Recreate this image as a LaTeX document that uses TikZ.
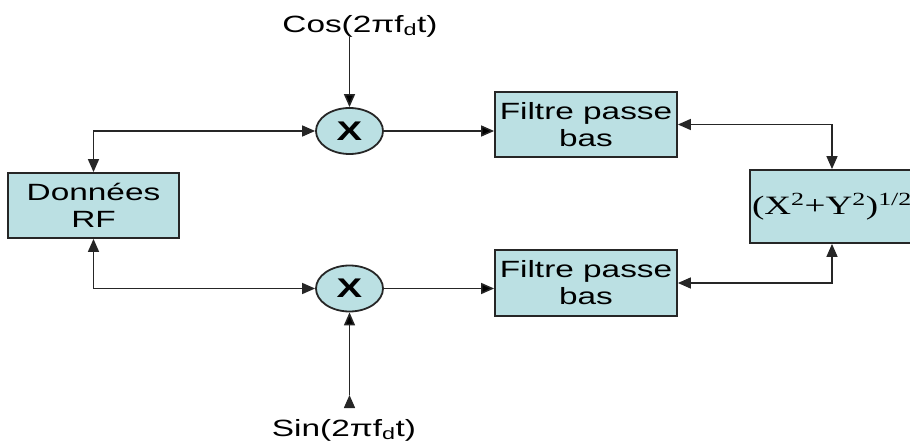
\documentclass[tikz,border=0pt]{standalone}
\usepackage{fontspec}
\setmainfont[FakeStretch=1.42]{Liberation Sans}
\newfontfamily\serifwide[FakeStretch=1.4]{Liberation Serif}
\usetikzlibrary{arrows.meta,shapes.geometric,calc}
\definecolor{paleblue}{RGB}{187,224,227}
\tikzset{
    block/.style =  {rectangle,
                    fill=paleblue,
                    draw=black!85,
                    text=black,
                    line width=1.8pt,
                    inner sep=0pt,
                    align=center,
                    font=\fontsize{23.5}{27}\selectfont},
    mixer/.style =  {ellipse,
                    fill=paleblue,
                    draw=black!85,
                    text=black,
                    line width=1.8pt,
                    inner sep=0pt,
                    minimum width=67pt,
                    minimum height=46pt,
                    font=\fontsize{27}{30}\selectfont\bfseries},
    signal/.style = {inner sep=0pt,
                    text=black,
                    font=\fontsize{23.5}{27}\selectfont},
    wire/.style =   {line width=1.5pt,
                    draw=black!85},
    >={Triangle[length=13pt,width=11pt]}}

\begin{document}
\begin{tikzpicture}[x=1pt,y=-1pt]
                \useasboundingbox (0,0) rectangle (910,446);
                \node[block,minimum width=171pt,minimum height=65pt] (DRF) at (93.5,205.5) {Données\\RF};
                \node[mixer]        (MA) at (349.5,131)   {X};
                \node[mixer]        (MB) at (349.5,288.5) {X};
                \node[block,minimum width=182pt,minimum height=65pt] (FA) at (586,124.5) {Filtre passe\\bas};
                \node[block,minimum width=182pt,minimum height=66pt] (FB) at (586,283)   {Filtre passe\\bas};
                \node[block,minimum width=164pt,minimum height=73pt,
                      font=\serifwide\fontsize{26.5}{30}\selectfont] (RES) at (832,206.5)
                      {(X\textsuperscript{2}+Y\textsuperscript{2})\textsuperscript{1/2}};
                \node[signal]       (COS) at (360,26)  {Cos(2πf\textsubscript{d}t)};
                \node[signal]       (SIN) at (344,430) {Sin(2πf\textsubscript{d}t)};
                \coordinate         (SINTOP) at (349.5,395);
                \draw [wire,<->]    (DRF.north) |- (MA.west);
                \draw [wire,<->]    (DRF.south) |- (MB.west);
                \draw [wire,<->]    (FA.east) -| (RES.north);
                \draw [wire,<->]    (FB.east) -| (RES.south);
                \path [wire,->]     (MA.north |- COS.south) edge (MA.north)
                                    (SINTOP) edge (MB.south)
                                    (MA) edge (FA.west |- MA)
                                    (MB) edge (FB.west |- MB);
        \end{tikzpicture}
\end{document}
